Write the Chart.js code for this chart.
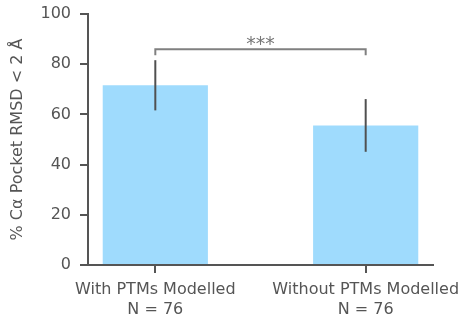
<!DOCTYPE html>
<html>
<head>
<meta charset="utf-8">
<script src="https://cdn.jsdelivr.net/npm/chart.js@4"></script>
<style>
  html, body { margin: 0; padding: 0; background: #fff; }
  #wrap { width: 458px; height: 322px; }
</style>
</head>
<body>
<div id="wrap"><canvas id="rmsdChart"></canvas></div>
<script>
const categories = [
    ['With PTMs Modelled', 'N = 76'],
    ['Without PTMs Modelled', 'N = 76']
];
const positions = [0, 1];
const means = [71.6, 55.6];
const errors = [10, 10.5];
const yTicks = [0, 20, 40, 60, 80, 100];
const sigLabel = '***';
const sigLevel = 86;
const sigDrop = 2.4;

// error bars and the significance bracket, drawn through the scales
const annotations = {
    id: 'annotations',
    afterDatasetsDraw(chart) {
        const ctx = chart.ctx;
        const x = chart.scales.x;
        const y = chart.scales.y;
        ctx.save();
        ctx.lineCap = 'butt';
        ctx.strokeStyle = '#505050';
        ctx.lineWidth = 2;
        positions.forEach((p, i) => {
            const px = x.getPixelForValue(p);
            ctx.beginPath();
            ctx.moveTo(px, y.getPixelForValue(means[i] - errors[i]));
            ctx.lineTo(px, y.getPixelForValue(means[i] + errors[i]));
            ctx.stroke();
        });

        const x0 = x.getPixelForValue(positions[0]);
        const x1 = x.getPixelForValue(positions[1]);
        const yTop = y.getPixelForValue(sigLevel);
        const yLow = y.getPixelForValue(sigLevel - sigDrop);
        ctx.strokeStyle = '#808080';
        ctx.beginPath();
        ctx.moveTo(x0, yLow);
        ctx.lineTo(x0, yTop);
        ctx.lineTo(x1, yTop);
        ctx.lineTo(x1, yLow);
        ctx.stroke();

        ctx.fillStyle = '#777777';
        ctx.font = '19px "DejaVu Sans"';
        ctx.textAlign = 'center';
        ctx.textBaseline = 'alphabetic';
        ctx.fillText(sigLabel, (x0 + x1) / 2, yTop + 1);
        ctx.restore();
    }
};

document.addEventListener('DOMContentLoaded', function() {
    Chart.defaults.font.family = '"DejaVu Sans"';
    Chart.defaults.color = '#555555';

    const ctx = document.getElementById('rmsdChart').getContext('2d');
    new Chart(ctx, {
        type: 'bar',
        data: {
            datasets: [{
                data: positions.map((p, i) => ({ x: p, y: means[i] })),
                backgroundColor: '#9fdbfd',
                borderWidth: 0,
                categoryPercentage: 1,
                barPercentage: 0.5
            }]
        },
        options: {
            responsive: true,
            maintainAspectRatio: false,
            animation: false,
            layout: { padding: { top: 14, right: 25, left: 0, bottom: 0 } },
            plugins: {
                legend: { display: false },
                tooltip: { enabled: false }
            },
            scales: {
                x: {
                    type: 'linear',
                    offset: false,
                    min: -0.32,
                    max: 1.32,
                    afterBuildTicks: (scale) => {
                        scale.ticks = positions.map(v => ({ value: v }));
                    },
                    afterFit: (scale) => {
                        scale.height = 57;
                        scale.paddingLeft = 0;
                        scale.paddingRight = 0;
                    },
                    ticks: {
                        padding: 7,
                        maxRotation: 0,
                        autoSkip: false,
                        font: { size: 16, lineHeight: 1.25 },
                        callback: (value) => categories[positions.indexOf(value)]
                    },
                    grid: {
                        offset: false,
                        drawOnChartArea: false,
                        tickLength: 8,
                        tickColor: '#555555',
                        lineWidth: 2
                    },
                    border: { color: '#555555', width: 2 }
                },
                y: {
                    min: 0,
                    max: 100,
                    afterBuildTicks: (scale) => {
                        scale.ticks = yTicks.map(v => ({ value: v }));
                    },
                    afterFit: (scale) => {
                        scale.width = 88;
                        scale.paddingTop = 0;
                        scale.paddingBottom = 0;
                    },
                    ticks: {
                        padding: 9,
                        font: { size: 16 }
                    },
                    grid: {
                        drawOnChartArea: false,
                        tickLength: 8,
                        tickColor: '#555555',
                        lineWidth: 2
                    },
                    border: { color: '#555555', width: 2 },
                    title: {
                        display: true,
                        text: '% Cα Pocket RMSD < 2 Å',
                        font: { size: 16 },
                        padding: { top: 8, bottom: 0 }
                    }
                }
            }
        },
        plugins: [annotations]
    });
});
</script>
</body>
</html>
